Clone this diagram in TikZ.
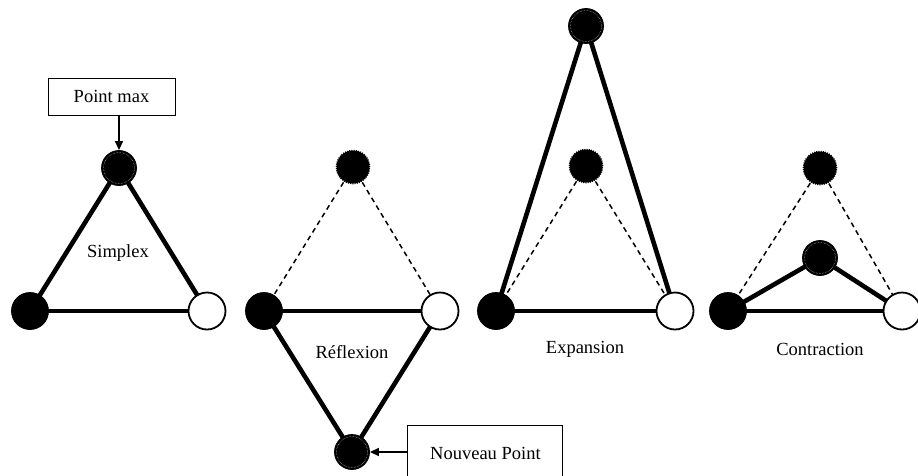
\documentclass[tikz,border=0pt]{standalone}
\usepackage{fontspec}
\setmainfont{Liberation Serif}
\usetikzlibrary{arrows.meta}

\tikzset{
  pt/.style={circle, inner sep=0pt, minimum size=37pt},
  lowpt/.style={pt, fill=black, draw=black, line width=0.8pt},
  highpt/.style={pt, fill=white, draw=black, line width=1.8pt},
  maxpt/.style={pt, minimum size=35pt, fill=black, draw=black, line width=0.8pt,
    path picture={\draw[white!75!black, densely dotted, line width=0.5pt]
      (path picture bounding box.center) circle (15.5pt);}},
  oldpt/.style={pt, minimum size=33pt, fill=black, draw=black, line width=1.6pt,
    dash pattern=on 1.1pt off 1.1pt},
  edge/.style={line width=4.6pt},
  base/.style={line width=3.6pt},
  old/.style={line width=1.5pt, dash pattern=on 5pt off 4pt},
  lbl/.style={font=\fontsize{18.5pt}{22pt}\selectfont, inner sep=0pt},
  tag/.style={draw=black, line width=1pt, fill=white,
    font=\fontsize{18.5pt}{22pt}\selectfont, inner sep=0pt},
  ptr/.style={line width=1.5pt, -{Triangle[length=9pt, width=8pt]}}
}

\begin{document}
\begin{tikzpicture}[x=1pt, y=-1pt]
  \useasboundingbox (0,0) rectangle (918,475);
  \clip (0,0) rectangle (918,475);

  % ---- Simplex ----
  \coordinate (s1) at (119,168);
  \coordinate (s2) at (30,311);
  \coordinate (s3) at (207,311);
  \draw[edge] (s1) -- (s2);
  \draw[edge] (s1) -- (s3);
  \draw[base] (s2) -- (s3);
  \node[maxpt] (S1) at (s1) {};
  \node[lowpt] (S2) at (s2) {};
  \node[highpt] (S3) at (s3) {};
  \node[lbl] (simplex) at (118,253) {Simplex};
  \node[tag, minimum width=127pt, minimum height=37pt] (pmax) at (111.5,96.5) {Point max};
  \draw[ptr] (pmax.south -| S1) -- (S1.north);

  % ---- Reflexion ----
  \coordinate (r1) at (353,167);
  \coordinate (r2) at (264,311);
  \coordinate (r3) at (440,311);
  \coordinate (r4) at (352,452);
  \draw[old] (r1) -- (r2);
  \draw[old] (r1) -- (r3);
  \draw[base] (r2) -- (r3);
  \draw[edge] (r2) -- (r4);
  \draw[edge] (r3) -- (r4);
  \node[oldpt] (R1) at (r1) {};
  \node[lowpt] (R2) at (r2) {};
  \node[highpt] (R3) at (r3) {};
  \node[maxpt] (R4) at (r4) {};
  \node[lbl] (reflexion) at (352,352) {Réflexion};
  \draw[draw=black, line width=1pt, fill=white] (407,490) -- (407,425) -- (562,425) -- (562,490);
  \node[lbl, anchor=west] (npoint) at (430,453) {Nouveau Point};
  \coordinate (nleft) at (407,452);
  \draw[ptr] (nleft) -- (R4.east);

  % ---- Expansion ----
  \coordinate (e1) at (586,26);
  \coordinate (e2) at (586,166);
  \coordinate (e3) at (496,311);
  \coordinate (e4) at (675,311);
  \draw[edge] (e1) -- (e3);
  \draw[edge] (e1) -- (e4);
  \draw[old] (e2) -- (e3);
  \draw[old] (e2) -- (e4);
  \draw[base] (e3) -- (e4);
  \node[maxpt] (E1) at (e1) {};
  \node[oldpt] (E2) at (e2) {};
  \node[lowpt] (E3) at (e3) {};
  \node[highpt] (E4) at (e4) {};
  \node[lbl] (expansion) at (585,349) {Expansion};

  % ---- Contraction ----
  \coordinate (c1) at (820,168);
  \coordinate (c2) at (820,258);
  \coordinate (c3) at (728,311);
  \coordinate (c4) at (902,311);
  \draw[old] (c1) -- (c3);
  \draw[old] (c1) -- (c4);
  \draw[edge] (c2) -- (c3);
  \draw[edge] (c2) -- (c4);
  \draw[base] (c3) -- (c4);
  \node[oldpt] (C1) at (c1) {};
  \node[maxpt] (C2) at (c2) {};
  \node[lowpt] (C3) at (c3) {};
  \node[highpt] (C4) at (c4) {};
  \node[lbl] (contraction) at (820,349) {Contraction};
\end{tikzpicture}
\end{document}
